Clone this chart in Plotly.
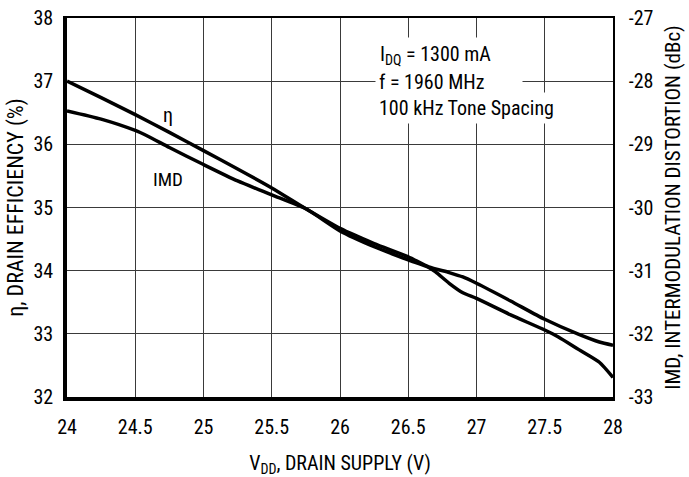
import plotly.graph_objects as go

# Drain supply voltage (V)
vdd_eta = [24.0, 24.25, 24.5, 24.75, 25.0, 25.25, 25.5, 25.75, 26.0, 26.25, 26.5, 26.65,
           26.8, 26.9, 27.0, 27.25, 27.5, 27.75, 27.9, 28.0]
# Drain efficiency (%)
eta = [37.0, 36.74, 36.47, 36.19, 35.9, 35.61, 35.31, 34.98, 34.67, 34.43, 34.22, 34.06,
       33.97, 33.9, 33.8, 33.52, 33.23, 32.99, 32.87, 32.82]

vdd_imd = [24.0, 24.25, 24.5, 24.6, 24.75, 25.0, 25.25, 25.5, 25.75, 26.0, 26.25, 26.5, 26.65,
           26.7, 26.8, 26.9, 27.0, 27.25, 27.5, 27.6, 27.75, 27.9, 28.0]
# Intermodulation distortion (dBc)
imd = [-28.47, -28.6, -28.78, -28.88, -29.05, -29.32, -29.58, -29.8, -30.02, -30.37, -30.62,
       -30.83, -30.95, -31.02, -31.2, -31.35, -31.44, -31.7, -31.94, -32.05, -32.25, -32.45, -32.69]

x_ticks = [24, 24.5, 25, 25.5, 26, 26.5, 27, 27.5, 28]
x_ticktext = ["24", "24.5", "25", "25.5", "26", "26.5", "27", "27.5", "28"]
y1_ticks = [32, 33, 34, 35, 36, 37, 38]
y2_ticks = [-33, -32, -31, -30, -29, -28, -27]
y2_ticktext = ["-33", "-32", "-31", "-30", "-29", "-28", "-27"]

FONT = "Liberation Sans Narrow, Arial Narrow, Roboto Condensed, Liberation Sans, sans-serif"

fig = go.Figure()
fig.add_trace(go.Scatter(x=vdd_eta, y=eta, mode="lines", line=dict(color="black", width=3.5, shape="spline", smoothing=0.6),
                         xaxis="x", yaxis="y", showlegend=False, hoverinfo="skip"))
fig.add_trace(go.Scatter(x=vdd_imd, y=imd, mode="lines", line=dict(color="black", width=3.5, shape="spline", smoothing=0.6),
                         xaxis="x2", yaxis="y2", showlegend=False, hoverinfo="skip"))

grid = "#3a3a3a"
fig.update_layout(
    width=689, height=477,
    margin=dict(l=67, r=76, t=18, b=80, autoexpand=False),
    paper_bgcolor="white", plot_bgcolor="white",
    font=dict(family=FONT, size=19, color="black"),
    xaxis=dict(range=[24, 28], tickvals=x_ticks, ticktext=x_ticktext, showgrid=True, gridcolor=grid, gridwidth=1.2,
               showline=True, linecolor="black", linewidth=3.5, ticks="", zeroline=False, automargin=False,
               ticklabelstandoff=9, ticklabeloverflow="allow",
               title=dict(text="V<sub>DD</sub>, DRAIN SUPPLY (V)", font=dict(size=20), standoff=32),
               tickfont=dict(size=20)),
    xaxis2=dict(range=[24, 28], overlaying="x", side="top", anchor="y", showgrid=False, showticklabels=False,
                showline=True, linecolor="black", linewidth=1.5, ticks="", zeroline=False, matches="x",
                automargin=False),
    yaxis=dict(range=[32, 38], tickvals=y1_ticks, showgrid=True, gridcolor=grid, gridwidth=1.2,
               showline=True, linecolor="black", linewidth=3.5, ticks="", zeroline=False, automargin=False,
               ticklabelstandoff=6, ticklabeloverflow="allow",
               title=dict(text="η, DRAIN EFFICIENCY (%)", font=dict(size=22), standoff=5),
               tickfont=dict(size=20)),
    yaxis2=dict(range=[-33, -27], tickvals=y2_ticks, ticktext=y2_ticktext, overlaying="y", side="right", anchor="x",
                showgrid=False, showline=True, linecolor="black", linewidth=1.5, ticks="", zeroline=False,
                automargin=False, ticklabelstandoff=10, ticklabeloverflow="allow",
                title=dict(text="IMD, INTERMODULATION DISTORTION (dBc)", font=dict(size=21), standoff=13),
                tickfont=dict(size=20)),
    annotations=[
        dict(x=24.74, y=36.46, xref="x", yref="y", text="η", showarrow=False, font=dict(size=20)),
        dict(x=24.74, y=35.45, xref="x", yref="y", text="IMD", showarrow=False, font=dict(size=19)),
        dict(x=26.26, y=37.42, xref="x", yref="y", text="I<sub>DQ</sub> = 1300 mA", showarrow=False, xanchor="left",
             align="left", bgcolor="white", width=140, borderpad=4, font=dict(size=20)),
        dict(x=26.26, y=36.99, xref="x", yref="y", text="f = 1960 MHz", showarrow=False, xanchor="left",
             align="left", bgcolor="white", width=140, borderpad=3, font=dict(size=20)),
        dict(x=26.26, y=36.58, xref="x", yref="y", text="100 kHz Tone Spacing", showarrow=False, xanchor="left",
             align="left", bgcolor="white", borderpad=3, font=dict(size=20)),
    ],
)
fig.write_html("out.html", config={"displayModeBar": False},
               post_script="document.body.style.margin='0';document.body.style.overflow='hidden';")
